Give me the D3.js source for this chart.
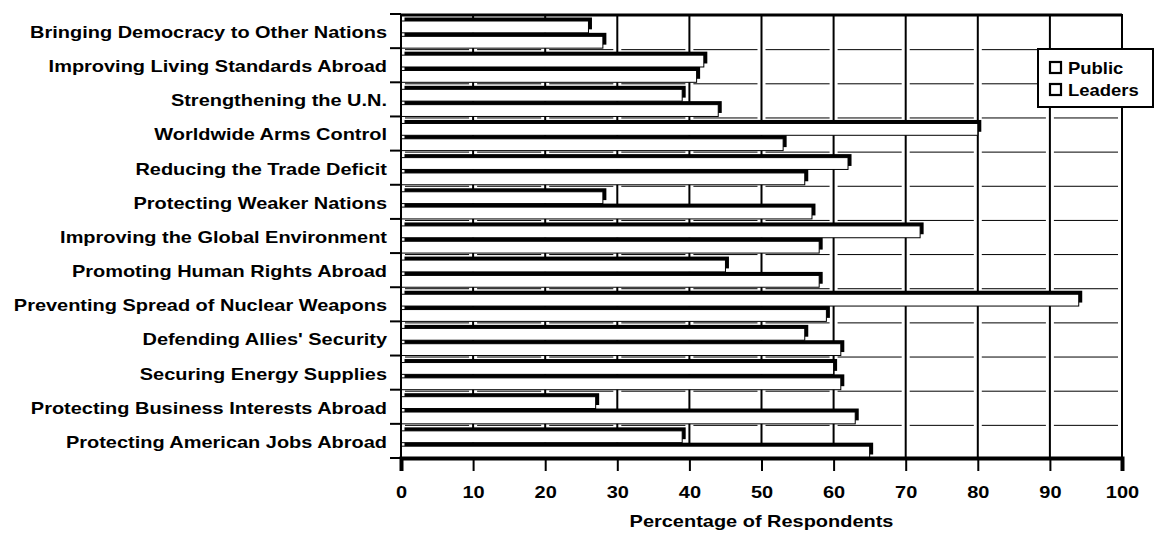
<!DOCTYPE html>
<html>
<head>
<meta charset="utf-8">
<script src="https://cdn.jsdelivr.net/npm/d3@7"></script>
<style>
  html, body { margin: 0; padding: 0; background: #fff; }
  text { font-family: "Liberation Sans", Arial, sans-serif; font-weight: 700; fill: #000; }
</style>
</head>
<body>
<div id="chart"></div>
<script>
// categories, top to bottom
const categories = [
    "Bringing Democracy to Other Nations",
    "Improving Living Standards Abroad",
    "Strengthening the U.N.",
    "Worldwide Arms Control",
    "Reducing the Trade Deficit",
    "Protecting Weaker Nations",
    "Improving the Global Environment",
    "Promoting Human Rights Abroad",
    "Preventing Spread of Nuclear Weapons",
    "Defending Allies' Security",
    "Securing Energy Supplies",
    "Protecting Business Interests Abroad",
    "Protecting American Jobs Abroad"
];
// upper bar of each pair
const leaders = [26, 42, 39, 80, 62, 28, 72, 45, 94, 56, 60, 27, 39];
// lower bar of each pair
const publicVals = [28, 41, 44, 53, 56, 57, 58, 58, 59, 61, 61, 63, 65];
const seriesNames = ["Public", "Leaders"];
const xTicks = [0, 10, 20, 30, 40, 50, 60, 70, 80, 90, 100];

function createBarChart() {
    // 1. canvas
    const W = 1157, H = 541;
    const left = 401, right = 1122, top = 14, bottom = 458;
    const sx = 1.21;   // the scanned text is a bit wide
    const depth = 3.5; // offset of the dark "shadow" face

    const svg = d3.select("#chart").append("svg")
        .attr("width", W)
        .attr("height", H);

    // 2. scales
    const x = d3.scaleLinear().domain([0, 100]).range([left, right]);
    const y = d3.scaleBand().domain(categories).range([top, bottom]);
    const inner = d3.scaleBand().domain(["Leaders", "Public"]).range([3.5, y.bandwidth()]);
    const barH = inner.bandwidth() - depth;

    const rows = categories.map((c, i) => ({ cat: c, Leaders: leaders[i], Public: publicVals[i] }));

    // 3. grid
    svg.append("g").selectAll("line")
        .data(xTicks.slice(1))
        .join("line")
        .attr("x1", d => x(d)).attr("x2", d => x(d))
        .attr("y1", top).attr("y2", bottom)
        .attr("stroke", "#000")
        .attr("stroke-width", 2);

    // thin broken lines at every row boundary
    const segs = [];
    categories.forEach(c => {
        for (let i = 0; i < xTicks.length - 1; i++) segs.push({ y: y(c), a: xTicks[i], b: xTicks[i + 1] });
    });
    svg.append("g").selectAll("line")
        .data(segs)
        .join("line")
        .attr("x1", d => x(d.a) + 4).attr("x2", d => x(d.b) - 4)
        .attr("y1", d => d.y + 1.5)
        .attr("y2", d => d.y + 1.5)
        .attr("stroke", "#000")
        .attr("stroke-width", 1);

    // 4. bars
    const bars = svg.append("g").selectAll("g")
        .data(rows.flatMap(r => ["Leaders", "Public"].map(k => ({ cat: r.cat, key: k, value: r[k] }))))
        .join("g");

    bars.append("rect")
        .attr("x", x(0) + depth)
        .attr("y", d => y(d.cat) + inner(d.key))
        .attr("width", d => x(d.value) - x(0))
        .attr("height", barH)
        .attr("fill", "#000");

    bars.append("rect")
        .attr("x", x(0))
        .attr("y", d => y(d.cat) + inner(d.key) + depth)
        .attr("width", d => x(d.value) - x(0))
        .attr("height", barH)
        .attr("fill", "#fff")
        .attr("stroke", "#000")
        .attr("stroke-width", 1);

    // 5. frame
    svg.append("line")
        .attr("x1", left).attr("x2", right)
        .attr("y1", top + 1).attr("y2", top + 1)
        .attr("stroke", "#000").attr("stroke-width", 3);

    svg.append("line")
        .attr("x1", left).attr("x2", left)
        .attr("y1", top).attr("y2", bottom)
        .attr("stroke", "#000").attr("stroke-width", 2);

    // category tick marks sit on the row boundaries
    svg.append("g").selectAll("line")
        .data(categories.map(c => y(c)).concat([bottom]))
        .join("line")
        .attr("x1", left - 11).attr("x2", left)
        .attr("y1", d => d).attr("y2", d => d)
        .attr("stroke", "#000").attr("stroke-width", 2);

    // 6. axes
    const yAxis = svg.append("g")
        .attr("transform", `translate(${left},0)`)
        .call(d3.axisLeft(y).tickSize(0).tickPadding(0));
    yAxis.select(".domain").remove();
    yAxis.selectAll("text")
        .attr("x", 0)
        .attr("dy", "0.36em")
        .attr("transform", `translate(-14,1) scale(${sx},1)`)
        .style("font-size", "16.5px")
        .style("font-family", null);

    const xAxis = svg.append("g")
        .attr("transform", `translate(0,${bottom})`)
        .call(d3.axisBottom(x).tickValues(xTicks).tickSize(13).tickPadding(0).tickFormat(d3.format("d")));
    xAxis.select(".domain")
        .attr("stroke-width", 4);
    xAxis.selectAll(".tick line")
        .attr("stroke-width", 2);
    xAxis.selectAll("text")
        .attr("y", 0)
        .attr("dy", 0)
        .attr("transform", `translate(0,40) scale(${sx},1)`)
        .style("font-size", "16.5px")
        .style("font-family", null);

    svg.append("text")
        .text("Percentage of Respondents")
        .attr("text-anchor", "middle")
        .attr("transform", `translate(${x(50)},527) scale(${sx},1)`)
        .style("font-size", "16.5px");

    // 7. legend
    const lg = svg.append("g").attr("transform", "translate(1038,49)");
    lg.append("rect")
        .attr("width", 115).attr("height", 58)
        .attr("fill", "#fff").attr("stroke", "#000").attr("stroke-width", 2);
    const item = lg.selectAll(".item")
        .data(seriesNames)
        .join("g")
        .attr("class", "item")
        .attr("transform", (d, i) => `translate(12,${19 + i * 22})`);
    item.append("rect")
        .attr("y", -6).attr("width", 11).attr("height", 11)
        .attr("fill", "#fff").attr("stroke", "#000").attr("stroke-width", 2.2);
    item.append("text")
        .text(d => d)
        .attr("transform", `translate(18,6) scale(1.12,1)`)
        .style("font-size", "16.5px");
}

createBarChart();
</script>
</body>
</html>
